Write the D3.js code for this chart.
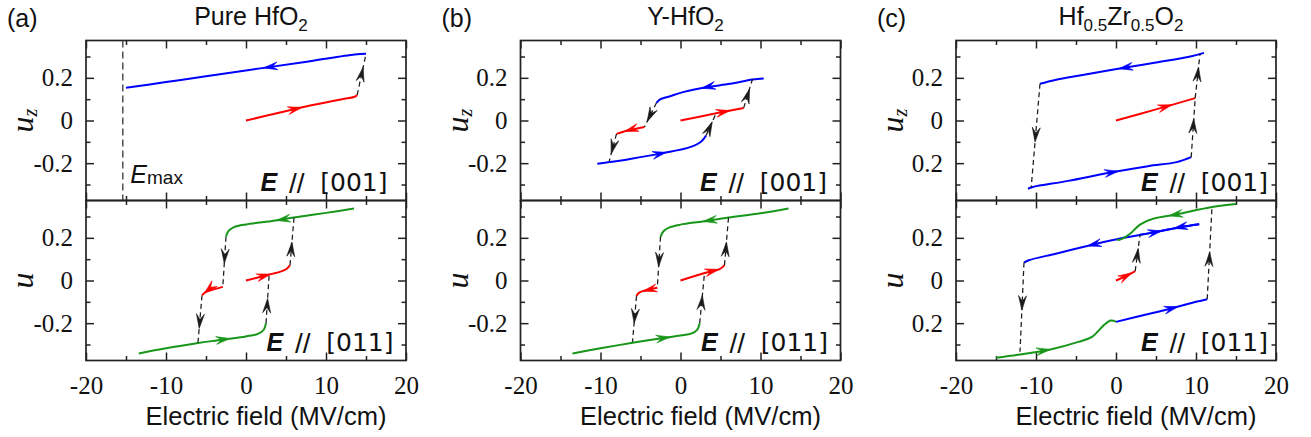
<!DOCTYPE html>
<html>
<head>
<meta charset="utf-8">
<script src="https://cdn.jsdelivr.net/npm/d3@7/dist/d3.min.js"></script>
<style>
  html, body { margin: 0; padding: 0; background: #fff; }
  svg { display: block; }
</style>
</head>
<body>
<svg id="chart" width="1311" height="437"></svg>
<script>
// ---------- ticks and tick labels ----------
const fieldMajorTicks = [-20, -10, 0, 10, 20];
const fieldMinorTicks = [-15, -5, 5, 15];
const fieldLabels = ["-20", "-10", "0", "10", "20"];
const dispMajorTicks = [-0.2, 0, 0.2];
const dispMinorTicks = [-0.3, -0.1, 0.1, 0.3];
const dispLabels = ["-0.2", "0", "0.2"];
const dispLabelsHZO = ["0.2", "0", "0.2"];

// ---------- (a) pure HfO2 ----------
const pureEmax = -15.4;
const pureTopRed = [[0, 0], [4, 0.035], [8, 0.07], [12, 0.1], [13.5, 0.11], [13.9, 0.12]];
const pureTopSwitch = [[13.9, 0.12], [15.0, 0.3125]];
const pureTopBlue = [[15.0, 0.3125], [13.6, 0.309], [8, 0.278], [2, 0.2455], [-5, 0.207], [-10, 0.18], [-15, 0.153]];
const pureTopArrows = [[0, 7.0, 0.06], [2, 14.65, 0.25], [1, 2.2, 0.245]];

const pureBotRed1 = [[0, 0], [2.6, 0.025], [4.5, 0.044], [5.1, 0.055], [5.5, 0.072]];
const pureBotSwitch1 = [[5.5, 0.072], [6.0, 0.294]];
const pureBotGreen1 = [[13.5, 0.3375], [10, 0.317], [6, 0.295], [3.5, 0.28], [0, 0.263], [-1.5, 0.25], [-2.2, 0.232], [-2.5, 0.205]];
const pureBotSwitch2 = [[-2.5, 0.205], [-2.9, -0.03]];
const pureBotRed2 = [[-2.9, -0.03], [-4.5, -0.047], [-5.1, -0.056], [-5.5, -0.07]];
const pureBotSwitch3 = [[-5.5, -0.07], [-6.0, -0.29]];
const pureBotGreen2 = [[-13.4, -0.342], [-10, -0.318], [-6, -0.293], [-3.5, -0.28], [0, -0.262], [1.5, -0.25], [2.2, -0.232], [2.5, -0.2]];
const pureBotSwitch4 = [[2.5, -0.2], [2.9, 0.03]];
const pureBotArrows = [[0, 3.1, 0.03], [1, 5.8, 0.18], [2, 3.8, 0.28], [3, -2.75, 0.08], [4, -5.2, -0.06], [5, -5.8, -0.225], [6, -2.0, -0.27], [7, 2.7, -0.084]];

// ---------- (b) Y-HfO2 ----------
const yTopRed1 = [[0, 0], [4, 0.03], [7.9, 0.059]];
const yTopSwitch1 = [[7.9, 0.059], [9.0, 0.194]];
const yTopBlue1 = [[10.4, 0.197], [9.0, 0.192], [6.2, 0.172], [3.25, 0.156], [0.3, 0.133], [-1.3, 0.114], [-2.6, 0.098], [-3.0, 0.083]];
const yTopSwitch2 = [[-3.0, 0.083], [-4.5, -0.03]];
const yTopRed2 = [[-4.5, -0.03], [-6.5, -0.046], [-8.0, -0.0625]];
const yTopSwitch3 = [[-8.0, -0.0625], [-8.9, -0.19]];
const yTopBlue2 = [[-10.4, -0.203], [-8.9, -0.195], [-6.3, -0.18], [-2.2, -0.153], [1.2, -0.125], [2.6, -0.098], [3.2, -0.07]];
const yTopSwitch4 = [[3.2, -0.07], [4.4, 0.03]];
const yTopArrows = [[0, 6.2, 0.047], [1, 8.6, 0.148], [2, 2.6, 0.152], [3, -4.2, -0.005], [4, -7.0, -0.053], [5, -8.7, -0.156], [6, -1.75, -0.15], [7, 3.9, -0.005]];

const yBotRed1 = [[0, 0], [3.25, 0.0375], [4.9, 0.053], [5.5, 0.072]];
const yBotSwitch1 = [[5.5, 0.072], [6.0, 0.295]];
const yBotGreen1 = [[13.5, 0.3375], [10, 0.315], [6, 0.295], [2.8, 0.277], [0, 0.262], [-1.3, 0.25], [-2.1, 0.232], [-2.5, 0.205]];
const yBotSwitch2 = [[-2.5, 0.205], [-2.9, -0.034]];
const yBotRed2 = [[-2.9, -0.034], [-4.7, -0.05], [-5.2, -0.058], [-5.5, -0.073]];
const yBotSwitch3 = [[-5.5, -0.073], [-6.0, -0.2875]];
const yBotGreen2 = [[-13.5, -0.342], [-10, -0.318], [-6, -0.292], [-2.2, -0.27], [0, -0.258], [1.4, -0.248], [2.1, -0.23], [2.4, -0.2]];
const yBotSwitch4 = [[2.4, -0.2], [3.0, 0.035]];
const yBotArrows = [[0, 4.8, 0.055], [1, 5.8, 0.18], [2, 2.8, 0.277], [3, -2.75, 0.064], [4, -4.7, -0.05], [5, -5.85, -0.2], [6, -1.3, -0.265], [7, 2.8, -0.07]];

// ---------- (c) Hf0.5Zr0.5O2 ----------
const hzoTopRed = [[0, 0], [5, 0.052], [9.9, 0.105]];
const hzoTopSwitch1 = [[9.9, 0.105], [10.5, 0.3125]];
const hzoTopBlue1 = [[11, 0.317], [9.3, 0.3], [5, 0.272], [1, 0.247], [-4, 0.214], [-7.6, 0.19], [-9.5, 0.172]];
const hzoTopSwitch2 = [[-9.5, 0.172], [-10.6, -0.3125]];
const hzoTopBlue2 = [[-11, -0.32], [-10.4, -0.312], [-6, -0.283], [-0.7, -0.244], [4, -0.214], [7.6, -0.195], [9.4, -0.172]];
const hzoTopSwitch3 = [[9.4, -0.172], [9.9, 0.105]];
const hzoTopArrows = [[0, 7.0, 0.074], [1, 10.35, 0.25], [2, 0.33, 0.245], [3, -10.3, -0.1], [4, 0.33, -0.238], [5, 9.7, 0.008]];

const hzoBotRed = [[0, 0], [1.2, 0.02], [2.4, 0.044]];
const hzoBotSwitch1 = [[2.4, 0.044], [3.0, 0.214]];
const hzoBotBlue1 = [[3.0, 0.214], [5.1, 0.228], [8, 0.25], [10.4, 0.264]];
const hzoBotBlue2 = [[10.4, 0.264], [8, 0.25], [5.1, 0.228], [0.5, 0.197], [-2.8, 0.169], [-7.4, 0.127], [-10.9, 0.095], [-11.5, 0.084]];
const hzoBotSwitch2 = [[-11.5, 0.084], [-12.0, -0.334]];
const hzoBotGreen1 = [[15, 0.359], [12, 0.345], [7.6, 0.31], [4.7, 0.29], [3.0, 0.262], [1.8, 0.22], [0.75, 0.195], [0.35, 0.19], [0.1, 0.193]];
const hzoBotGreen2 = [[-15, -0.3625], [-12, -0.347], [-8.2, -0.323], [-4.7, -0.2875], [-3, -0.264], [-1.5, -0.209], [-0.7, -0.1875], [-0.3, -0.189], [0, -0.194]];
const hzoBotBlue3 = [[0, -0.194], [3, -0.166], [6.8, -0.132], [10, -0.1], [11.4, -0.0875]];
const hzoBotSwitch3 = [[11.4, -0.0875], [12.0, 0.345]];
const hzoBotArrows = [[0, 2.0, 0.037], [1, 2.85, 0.15], [2, 5.75, 0.232], [3, 7.2, 0.245], [3, -3.6, 0.163], [4, -11.8, -0.139], [5, 6.6, 0.3], [6, -8.2, -0.323], [7, 7.8, -0.125], [8, 11.8, 0.134]];

// ---------- titles ----------
const titleA = [["Pure HfO", 0], ["2", 1]];
const titleB = [["Y-HfO", 0], ["2", 1]];
const titleC = [["Hf", 0], ["0.5", 1], ["Zr", 0], ["0.5", 1], ["O", 0], ["2", 1]];

// ---------- panel table ----------
const panels = [
  { tag: "(a)", left: 86, title: titleA, yLabels: dispLabels, rows: [
    { curves: [[pureTopRed, "red"], [pureTopBlue, "blue"], [pureTopSwitch, "dash"]], arrows: pureTopArrows, dir: "[001]", inset: 18.5, sub: "z", emax: pureEmax },
    { curves: [[pureBotRed1, "red"], [pureBotSwitch1, "dash"], [pureBotGreen1, "green"], [pureBotSwitch2, "dash"], [pureBotRed2, "red"], [pureBotSwitch3, "dash"], [pureBotGreen2, "green"], [pureBotSwitch4, "dash"]], arrows: pureBotArrows, dir: "[011]", inset: 12.5, sub: "" }
  ]},
  { tag: "(b)", left: 520.5, title: titleB, yLabels: dispLabels, rows: [
    { curves: [[yTopRed1, "red"], [yTopSwitch1, "dash"], [yTopBlue1, "blue"], [yTopSwitch2, "dash"], [yTopRed2, "red"], [yTopSwitch3, "dash"], [yTopBlue2, "blue"], [yTopSwitch4, "dash"]], arrows: yTopArrows, dir: "[001]", inset: 13.5, sub: "z" },
    { curves: [[yBotRed1, "red"], [yBotSwitch1, "dash"], [yBotGreen1, "green"], [yBotSwitch2, "dash"], [yBotRed2, "red"], [yBotSwitch3, "dash"], [yBotGreen2, "green"], [yBotSwitch4, "dash"]], arrows: yBotArrows, dir: "[011]", inset: 12.5, sub: "" }
  ]},
  { tag: "(c)", left: 956, title: titleC, yLabels: dispLabelsHZO, rows: [
    { curves: [[hzoTopRed, "red"], [hzoTopSwitch1, "dash"], [hzoTopBlue1, "blue"], [hzoTopSwitch2, "dash"], [hzoTopBlue2, "blue"], [hzoTopSwitch3, "dash"]], arrows: hzoTopArrows, dir: "[001]", inset: 8, sub: "z" },
    { curves: [[hzoBotRed, "red"], [hzoBotSwitch1, "dash"], [hzoBotBlue1, "blue"], [hzoBotBlue2, "blue"], [hzoBotSwitch2, "dash"], [hzoBotGreen1, "green"], [hzoBotGreen2, "green"], [hzoBotBlue3, "blue"], [hzoBotSwitch3, "dash"]], arrows: hzoBotArrows, dir: "[011]", inset: 8, sub: "" }
  ]}
];

// ---------- drawing ----------
const svg = d3.select("#chart");
const colors = { red: "#ff0000", blue: "#0000ff", green: "#17961a", dash: "#1a1a1a" };
const plotW = 320, rowTops = [40.5, 200.5], rowH = 160;
const frame = "#222";
const sans = "'Liberation Sans', Arial, sans-serif";
const serif = "'Liberation Serif', 'Times New Roman', serif";
const wide = "'DejaVu Sans', Verdana, sans-serif";

function headPath(len, half) {
  return `M0,0L${-len},${-half}L${-len * 0.62},0L${-len},${half}Z`;
}

function styleTicks(sel) {
  sel.select(".domain").remove();
  sel.attr("font-family", null).attr("font-size", null);
  sel.selectAll("line").attr("stroke", frame).attr("stroke-width", 1.5);
  sel.selectAll("text").attr("fill", "#111")
    .style("font-family", serif).style("font-size", "25px");
}

panels.forEach(p => {
  const x = d3.scaleLinear().domain([-20, 20]).range([p.left, p.left + plotW]);
  const g = svg.append("g");

  g.append("text").attr("x", p.left - 79).attr("y", 27)
    .style("font-family", sans).style("font-size", "25px").attr("fill", "#111").text(p.tag);

  const title = g.append("text").attr("x", p.left + plotW / 2 + 5).attr("y", 25)
    .attr("text-anchor", "middle").style("font-family", sans).style("font-size", "25px").attr("fill", "#111");
  let inSub = false;
  p.title.forEach(([s, isSub]) => {
    const ts = title.append("tspan").text(s);
    if (isSub) ts.style("font-size", "17px");
    if (isSub && !inSub) ts.attr("dy", 6);
    if (!isSub && inSub) ts.attr("dy", -6);
    inSub = !!isSub;
  });

  p.rows.forEach((r, ri) => {
    const top = rowTops[ri], bottom = top + rowH;
    const y = d3.scaleLinear().domain([-0.375, 0.375]).range([bottom, top]);
    const line = d3.line().x(d => x(d[0])).y(d => y(d[1])).curve(d3.curveCatmullRom.alpha(0.5));

    // ticks, all pointing inward
    const isLast = ri === p.rows.length - 1;
    g.append("g").attr("transform", `translate(0,${bottom})`)
      .call(d3.axisBottom(x).tickValues(fieldMajorTicks).tickSizeInner(-8).tickSizeOuter(0)
        .tickPadding(0).tickFormat((d, i) => isLast ? fieldLabels[i] : ""))
      .call(styleTicks)
      .call(s => s.selectAll("text").attr("y", 33.5).attr("dy", null));
    g.append("g").attr("transform", `translate(0,${bottom})`)
      .call(d3.axisBottom(x).tickValues(fieldMinorTicks).tickSizeInner(-4.5).tickSizeOuter(0).tickFormat(""))
      .call(styleTicks);
    g.append("g").attr("transform", `translate(0,${top})`)
      .call(d3.axisTop(x).tickValues(fieldMajorTicks).tickSizeInner(-8).tickSizeOuter(0).tickFormat(""))
      .call(styleTicks);
    g.append("g").attr("transform", `translate(0,${top})`)
      .call(d3.axisTop(x).tickValues(fieldMinorTicks).tickSizeInner(-4.5).tickSizeOuter(0).tickFormat(""))
      .call(styleTicks);
    g.append("g").attr("transform", `translate(${p.left},0)`)
      .call(d3.axisLeft(y).tickValues(dispMajorTicks).tickSizeInner(-8).tickSizeOuter(0)
        .tickPadding(13).tickFormat((d, i) => p.yLabels[i]))
      .call(styleTicks);
    g.append("g").attr("transform", `translate(${p.left},0)`)
      .call(d3.axisLeft(y).tickValues(dispMinorTicks).tickSizeInner(-4.5).tickSizeOuter(0).tickFormat(""))
      .call(styleTicks);
    g.append("g").attr("transform", `translate(${p.left + plotW},0)`)
      .call(d3.axisRight(y).tickValues(dispMajorTicks).tickSizeInner(-8).tickSizeOuter(0).tickFormat(""))
      .call(styleTicks);
    g.append("g").attr("transform", `translate(${p.left + plotW},0)`)
      .call(d3.axisRight(y).tickValues(dispMinorTicks).tickSizeInner(-4.5).tickSizeOuter(0).tickFormat(""))
      .call(styleTicks);

    // frame
    g.append("rect").attr("x", p.left).attr("y", top).attr("width", plotW).attr("height", rowH)
      .attr("fill", "none").attr("stroke", frame).attr("stroke-width", 1.7);

    // maximum field marker
    if (r.emax !== undefined) {
      g.append("line").attr("x1", x(r.emax)).attr("x2", x(r.emax)).attr("y1", top).attr("y2", bottom)
        .attr("stroke", "#444").attr("stroke-width", 1.4).attr("stroke-dasharray", "7,4");
      const t = g.append("text").attr("x", x(r.emax) + 7.5).attr("y", bottom - 17.5)
        .style("font-family", sans).style("font-size", "25px").attr("fill", "#111");
      t.append("tspan").style("font-style", "italic").text("E");
      t.append("tspan").style("font-size", "19px").attr("dy", 1).text("max");
    }

    // hysteresis branches: solid branches first, switching jumps on top
    const order = r.curves.map((c, i) => i).sort((a, b) => (r.curves[a][1] === "dash") - (r.curves[b][1] === "dash"));
    order.forEach(i => {
      const [pts, kind] = r.curves[i];
      const path = g.append("path").attr("d", line(pts)).attr("fill", "none")
        .attr("stroke", colors[kind]).attr("stroke-linejoin", "round");
      if (kind === "dash") path.attr("stroke-width", 1.25).attr("stroke-dasharray", "5,3.5");
      else path.attr("stroke-width", 2);
    });

    // direction arrowheads, snapped onto their branch
    r.arrows.forEach(([ci, e, u]) => {
      const [pts, kind] = r.curves[ci];
      const px = x(e), py = y(u);
      let best = null;
      for (let k = 0; k < pts.length - 1; k++) {
        const ax = x(pts[k][0]), ay = y(pts[k][1]);
        const bx = x(pts[k + 1][0]), by = y(pts[k + 1][1]);
        const dx = bx - ax, dy = by - ay, l2 = dx * dx + dy * dy;
        let t = l2 ? ((px - ax) * dx + (py - ay) * dy) / l2 : 0;
        t = Math.max(0, Math.min(1, t));
        const qx = ax + t * dx, qy = ay + t * dy;
        const d = (qx - px) ** 2 + (qy - py) ** 2;
        if (!best || d < best.d) best = { d, qx, qy, ang: Math.atan2(dy, dx) * 180 / Math.PI };
      }
      const dashed = kind === "dash";
      g.append("path").attr("d", dashed ? headPath(14.5, 4) : headPath(14, 3.9))
        .attr("transform", `translate(${best.qx},${best.qy}) rotate(${best.ang})`)
        .attr("fill", colors[kind]).attr("stroke", colors[kind]).attr("stroke-width", 0.6)
        .attr("stroke-linejoin", "miter");
    });

    // field direction label
    const R = p.left + plotW - r.inset, base = bottom - 9.5;
    g.append("text").attr("x", R - 127).attr("y", base).style("font-family", sans)
      .style("font-size", "25px").style("font-weight", "bold").style("font-style", "italic").attr("fill", "#111").text("E");
    g.append("text").attr("x", R - 83).attr("y", base + 2).attr("text-anchor", "end").style("font-family", sans)
      .style("font-size", "28px").attr("fill", "#111").text("//");
    g.append("text").attr("x", R).attr("y", base).attr("text-anchor", "end").style("font-family", wide)
      .style("font-size", "25px").attr("fill", "#111").text(r.dir);

    // vertical axis title
    const yt = g.append("text").attr("transform", `translate(${p.left - 53},${(top + bottom) / 2}) rotate(-90)`)
      .attr("text-anchor", "middle").style("font-family", serif).attr("fill", "#111");
    yt.append("tspan").style("font-style", "italic").style("font-size", "32px").text("u");
    if (r.sub) yt.append("tspan").style("font-style", "italic").style("font-size", "20px").attr("dy", 4).text(r.sub);
  });

  g.append("text").attr("x", p.left + plotW / 2 + 20).attr("y", 425).attr("text-anchor", "middle")
    .style("font-family", sans).style("font-size", "25.5px").attr("fill", "#111").text("Electric field (MV/cm)");
});
</script>
</body>
</html>
